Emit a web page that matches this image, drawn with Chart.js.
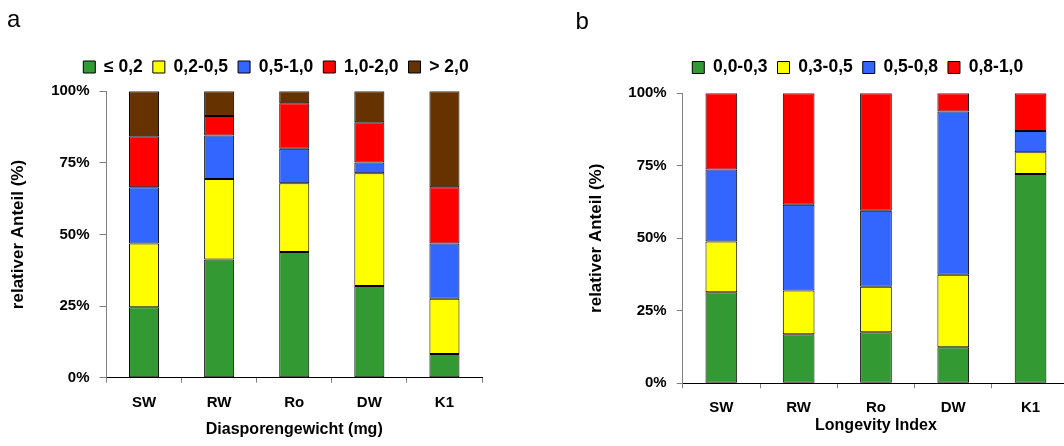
<!DOCTYPE html>
<html>
<head>
<meta charset="utf-8">
<script src="https://cdn.jsdelivr.net/npm/chart.js@4.4.1/dist/chart.umd.min.js"></script>
<style>
html, body { margin: 0; padding: 0; overflow: hidden; background: #fff; }
#wrap { position: relative; width: 1064px; height: 446px; overflow: hidden; background: #fff; }
canvas { position: absolute; top: 0; }
#ca { left: 0; }
#cb { left: 560px; }
</style>
</head>
<body>
<div id="wrap">
<canvas id="ca" width="545" height="446"></canvas>
<canvas id="cb" width="580" height="446"></canvas>
</div>
<script>
// ---- Data ----
const categories = ['SW', 'RW', 'Ro', 'DW', 'K1'];

// Panel a: Diasporengewicht (mg)
const labelsA = ['\u2264 0,2', '0,2-0,5', '0,5-1,0', '1,0-2,0', '> 2,0'];
const a_le02   = [24.6, 41.3, 43.9, 32.0, 8.3];
const a_02_05  = [22.3, 28.1, 24.0, 39.4, 19.3];
const a_05_10  = [19.6, 15.2, 12.0, 3.7, 19.3];
const a_10_20  = [17.8, 6.8, 15.9, 14.1, 19.6];
const a_gt20   = [15.7, 8.6, 4.2, 10.8, 33.5];

// Panel b: Longevity Index
const labelsB = ['0,0-0,3', '0,3-0,5', '0,5-0,8', '0,8-1,0'];
const b_00_03 = [31.4, 16.9, 17.6, 12.4, 72.2];
const b_03_05 = [17.5, 15.1, 15.7, 25.0, 7.5];
const b_05_08 = [24.8, 29.6, 26.2, 56.3, 7.3];
const b_08_10 = [26.3, 38.4, 40.5, 6.3, 13.0];

const yTicks = [0, 25, 50, 75, 100];

const colorsA = ['#339933', '#FFFF00', '#3366FF', '#FF0000', '#663300'];
const colorsB = ['#339933', '#FFFF00', '#3366FF', '#FF0000'];

// ---- Setup ----
const FONT = '"Liberation Sans", Arial, Helvetica, sans-serif';
Chart.defaults.font.family = FONT;
Chart.defaults.color = '#000';

const legendGap = {
  id: 'legendGap',
  beforeInit(chart, args, opts) {
    const lg = chart.legend;
    if (!lg) return;
    const orig = lg.fit;
    lg.fit = function () { orig.call(this); this.height += (opts.extra || 0); };
  }
};

function makeDatasets(labels, series, colors) {
  return series.map((vals, i) => ({
    label: labels[i],
    data: vals,
    backgroundColor: colors[i],
    borderColor: '#000',
    borderWidth: 1,
    borderSkipped: false
  }));
}

function makeChart(id, cfg) {
  return new Chart(document.getElementById(id), {
    type: 'bar',
    data: { labels: categories, datasets: makeDatasets(cfg.labels, cfg.series, cfg.colors) },
    plugins: [legendGap],
    options: {
      responsive: false,
      animation: false,
      devicePixelRatio: 1,
      layout: { padding: { left: cfg.padL, right: 0, top: 0, bottom: 0 } },
      datasets: { bar: { categoryPercentage: 1.0, barPercentage: cfg.barPct } },
      plugins: {
        tooltip: { enabled: false },
        legendGap: { extra: cfg.legendExtra },
        title: {
          display: true,
          text: cfg.letter,
          align: 'start',
          color: '#000',
          font: { size: 24, weight: 'normal', family: FONT },
          padding: cfg.titlePad
        },
        legend: {
          display: true,
          position: 'top',
          align: 'center',
          labels: {
            boxWidth: 12,
            boxHeight: 12,
            padding: 10,
            color: '#000',
            font: { size: 17.5, weight: 'bold', family: FONT }
          }
        }
      },
      scales: {
        x: {
          stacked: true,
          offset: true,
          afterFit(s) { s.height = cfg.xH; },
          grid: { display: true, drawOnChartArea: false, drawTicks: true, tickLength: 5, color: '#808080', offset: true },
          border: { display: true, color: '#000', width: 1 },
          ticks: { padding: cfg.xTickPad, color: '#000', font: { size: 15, weight: 'bold', family: FONT } },
          title: {
            display: true,
            text: cfg.xTitle,
            color: '#000',
            font: { size: 16, weight: 'bold', family: FONT },
            padding: { top: 0, bottom: cfg.xTitlePadB }
          }
        },
        y: {
          stacked: true,
          min: 0,
          max: 100,
          afterFit(s) { s.width = cfg.yW; },
          afterBuildTicks(s) { s.ticks = yTicks.map(v => ({ value: v })); },
          grid: { display: true, drawOnChartArea: false, drawTicks: true, tickLength: cfg.yTickLen, color: '#808080' },
          border: { display: true, color: '#808080', width: 1 },
          ticks: {
            padding: 10,
            color: '#000',
            font: { size: 15, weight: 'bold', family: FONT },
            callback: v => v + '%'
          },
          title: {
            display: true,
            text: 'relativer Anteil (%)',
            color: '#000',
            font: { size: 17, weight: 'bold', family: FONT },
            padding: { top: cfg.yTitlePadT, bottom: 0 }
          }
        },
        yR: {
          type: 'linear',
          position: 'right',
          display: true,
          afterFit(s) { s.width = cfg.rightW; },
          grid: { display: false },
          border: { display: false },
          ticks: { display: false },
          title: { display: false }
        }
      }
    }
  });
}

makeChart('ca', {
  letter: 'a',
  labels: labelsA,
  series: [a_le02, a_02_05, a_05_10, a_10_20, a_gt20],
  colors: colorsA,
  padL: 7,
  yW: 99.5,
  rightW: 63,
  barPct: 0.4,
  titlePad: { top: 6.3, bottom: 13.15 },
  legendExtra: 5.55,
  xH: 68.3,
  xTickPad: 11.6,
  xTitle: 'Diasporengewicht (mg)',
  xTitlePadB: 6.9,
  yTickLen: 7,
  yTitlePadT: 1.2
});

makeChart('cb', {
  letter: 'b',
  labels: labelsB,
  series: [b_00_03, b_03_05, b_05_08, b_08_10],
  colors: colorsB,
  padL: 15.5,
  yW: 107.2,
  rightW: 70.8,
  barPct: 0.41,
  titlePad: { top: 7.6, bottom: 12.35 },
  legendExtra: 7.05,
  xH: 62.7,
  xTickPad: 10.7,
  xTitle: 'Longevity Index',
  xTitlePadB: 11.1,
  yTickLen: 6,
  yTitlePadT: 10.3
});
</script>
</body>
</html>
